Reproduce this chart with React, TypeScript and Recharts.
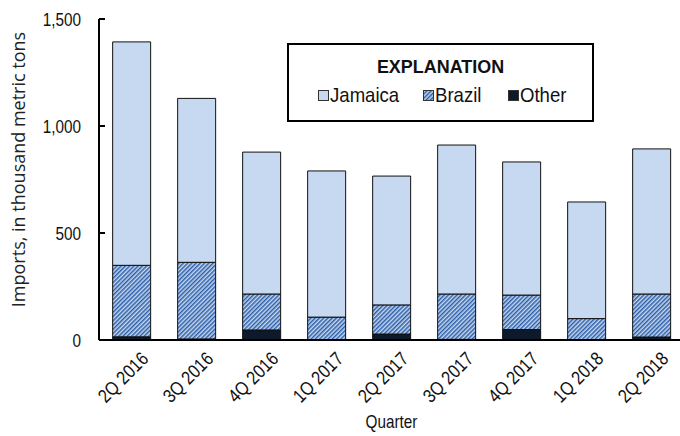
import React from 'react';
import { BarChart, Bar, XAxis, YAxis, Legend } from 'recharts';

const quarters = ['2Q 2016', '3Q 2016', '4Q 2016', '1Q 2017', '2Q 2017', '3Q 2017', '4Q 2017', '1Q 2018', '2Q 2018'];
const jamaica = [1044, 766, 663, 683, 602, 696, 622, 545, 678];
const brazil = [334, 358, 168, 105, 136, 212, 161, 98, 201];
const other = [15, 5, 47, 2, 28, 3, 49, 2, 14];
const leftTicks = [0, 500, 1000, 1500];
const rightTicks = [0, 50, 100, 150, 200, 250];
const legendOrder = ['Jamaica', 'Brazil', 'Other'];

const data = quarters.map((q, i) => ({
  quarter: q,
  other: other[i],
  brazil: brazil[i],
  jamaica: jamaica[i],
}));

const SANS = "'Liberation Sans', Arial, sans-serif";
const LABEL_FONT = "'Open Sans', 'Noto Sans', sans-serif";
const SQUEEZE = 0.85;

const fmt = (v: number) => v.toLocaleString('en-US');

// condensed-looking text: regular sans squeezed horizontally
const NarrowText = ({ x, y, angle = 0, anchor = 'start', size = 18, bold = false, squeeze = SQUEEZE, children }: any) => (
  <text
    transform={`translate(${x} ${y}) rotate(${angle}) scale(${squeeze} 1)`}
    textAnchor={anchor}
    fontSize={size}
    fontFamily={SANS}
    fontWeight={bold ? 'bold' : 'normal'}
    fill="#111"
  >
    {children}
  </text>
);

const LeftTick = ({ x, y, payload }: any) => (
  <g>
    <line x1={x + 18} x2={x + 24} y1={y} y2={y} stroke="#000" strokeWidth={2} />
    <NarrowText x={x} y={y + 6.5} anchor="end">{fmt(payload.value)}</NarrowText>
  </g>
);

const RightTick = ({ x, y }: any) => (
  <line x1={x - 14} x2={x - 8} y1={y} y2={y} stroke="#000" strokeWidth={2} />
);

const QuarterTick = ({ x, y, payload }: any) => (
  <NarrowText x={x + 18} y={y + 20} angle={-45} anchor="end" size={19}>{payload.value}</NarrowText>
);

const YLabel = ({ viewBox }: any) => {
  const cx = viewBox.x + 18;
  const cy = viewBox.y + viewBox.height / 2 - 10;
  return (
    <text
      x={cx}
      y={cy}
      transform={`rotate(-90 ${cx} ${cy})`}
      textAnchor="middle"
      dominantBaseline="central"
      fontSize={18}
      fontFamily={LABEL_FONT}
      fill="#222"
    >
      Imports, in thousand metric tons
    </text>
  );
};

const XLabel = ({ viewBox }: any) => (
  <NarrowText x={viewBox.x + viewBox.width / 2} y={viewBox.y + viewBox.height - 8} anchor="middle">
    Quarter
  </NarrowText>
);

const itemX = [31, 136, 221];

const LegendBox = ({ payload }: any) => {
  const entries = legendOrder.map((name) => (payload || []).find((p: any) => p.value === name));
  return (
    <svg width={307} height={79} style={{ display: 'block' }}>
      <rect x={1} y={1} width={305} height={77} fill="#fff" stroke="#000" strokeWidth={2} />
      <NarrowText x={153.5} y={30} anchor="middle" bold size={18.5} squeeze={0.97}>
        EXPLANATION
      </NarrowText>
      {entries.map((it: any, i: number) =>
        it ? (
          <g key={it.value}>
            <rect x={itemX[i] + 0.5} y={47.5} width={10} height={10} fill={it.color} stroke="#333" strokeWidth={1} />
            <NarrowText x={itemX[i] + 12} y={59} size={20} squeeze={0.93}>{it.value}</NarrowText>
          </g>
        ) : null
      )}
    </svg>
  );
};

export default function App() {
  return (
    <div style={{ position: 'absolute', left: 0, top: 0, width: 680, height: 436, overflow: 'hidden', background: '#fff' }}>
      <BarChart
        width={720}
        height={436}
        data={data}
        margin={{ top: 19, right: 6, bottom: 0, left: 0 }}
        barCategoryGap="21%"
      >
        <defs>
          <pattern id="brazilHatch" width="3" height="3" patternUnits="userSpaceOnUse" patternTransform="rotate(45)">
            <rect width="3" height="3" fill="#C6D9F0" />
            <rect width="1.5" height="3" fill="#2D5EA8" />
          </pattern>
        </defs>
        <XAxis
          dataKey="quarter"
          height={96}
          interval={0}
          tickLine={false}
          tickSize={0}
          tickMargin={0}
          axisLine={{ stroke: '#000', strokeWidth: 2 }}
          tick={<QuarterTick />}
          label={XLabel}
        />
        <YAxis
          yAxisId="left"
          width={99}
          domain={[0, 1500]}
          ticks={leftTicks}
          interval={0}
          tickLine={false}
          tickSize={0}
          tickMargin={18}
          axisLine={{ stroke: '#000', strokeWidth: 2 }}
          tick={<LeftTick />}
          label={YLabel}
        />
        <YAxis
          yAxisId="right"
          orientation="right"
          width={30}
          domain={[0, 250]}
          ticks={rightTicks}
          interval={0}
          tickLine={false}
          tickSize={0}
          tickMargin={8}
          axisLine={{ stroke: '#000', strokeWidth: 2 }}
          tick={<RightTick />}
        />
        <Legend
          layout="vertical"
          align="center"
          verticalAlign="middle"
          wrapperStyle={{ left: 287, top: 43, width: 307 }}
          content={<LegendBox />}
        />
        <Bar yAxisId="left" dataKey="other" name="Other" stackId="a" fill="#0C1A2C" stroke="#111" strokeWidth={1} isAnimationActive={false} />
        <Bar yAxisId="left" dataKey="brazil" name="Brazil" stackId="a" fill="url(#brazilHatch)" stroke="#111" strokeWidth={1} isAnimationActive={false} />
        <Bar yAxisId="left" dataKey="jamaica" name="Jamaica" stackId="a" fill="#C6D9F0" stroke="#111" strokeWidth={1} isAnimationActive={false} />
      </BarChart>
    </div>
  );
}
